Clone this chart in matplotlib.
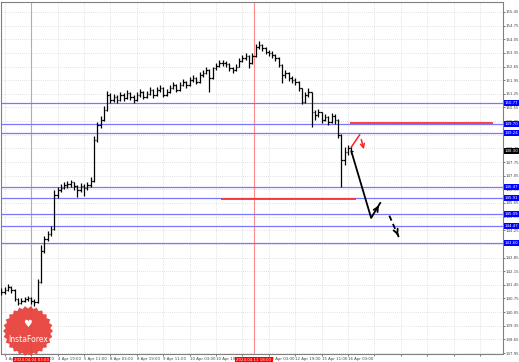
import matplotlib
matplotlib.use('Agg')
import matplotlib.pyplot as plt
import numpy as np
from matplotlib.patches import Polygon
import matplotlib.transforms as mtransforms

# ---------------- data ----------------
bar_index = list(range(0, 214, 2))
closes = [141.10, 141.20, 141.35, 141.20, 140.70, 140.50, 140.60, 140.70, 140.75, 140.60,
          140.55, 141.60, 143.20, 143.80, 144.05, 144.30, 146.05, 146.30, 146.40, 146.55,
          146.60, 146.70, 146.50, 146.30, 146.50, 146.40, 146.55, 146.80, 148.90, 149.65,
          149.90, 150.40, 151.20, 150.95, 151.10, 150.95, 151.20, 151.05, 151.30, 151.10,
          150.95, 151.20, 151.35, 151.10, 151.25, 151.45, 151.20, 151.45, 151.55, 151.20,
          151.35, 151.55, 151.70, 151.45, 151.70, 151.85, 151.70, 151.95, 152.05, 151.85,
          152.20, 152.30, 152.45, 152.05, 152.55, 152.70, 152.85, 152.85, 152.80, 152.55,
          152.45, 152.65, 152.95, 153.10, 153.20, 152.85, 153.20, 153.65, 153.75, 153.60,
          153.40, 153.35, 153.25, 153.10, 152.75, 152.20, 152.30, 152.05, 151.95, 151.85,
          151.55, 150.85, 151.20, 151.35, 150.30, 150.15, 150.30, 149.90, 150.05, 149.80,
          150.10, 149.90, 149.15, 147.85, 148.25, 148.45, 148.30]
highs = [141.30, 141.35, 141.50, 141.40, 141.25, 140.75, 140.75, 140.85, 140.90, 140.80,
         140.70, 141.75, 143.50, 143.95, 144.20, 144.45, 146.30, 146.45, 146.60, 146.75,
         146.80, 146.85, 146.75, 146.55, 146.65, 146.60, 146.70, 147.00, 149.10, 149.80,
         150.10, 150.60, 151.40, 151.30, 151.25, 151.20, 151.35, 151.30, 151.45, 151.35,
         151.20, 151.35, 151.50, 151.40, 151.40, 151.60, 151.50, 151.60, 151.70, 151.60,
         151.50, 151.70, 151.85, 151.75, 151.85, 152.00, 151.90, 152.10, 152.20, 152.10,
         152.35, 152.45, 152.60, 152.50, 152.65, 152.85, 153.00, 153.00, 152.95, 152.85,
         152.65, 152.80, 153.10, 153.25, 153.35, 153.25, 153.35, 153.80, 153.95, 153.80,
         153.65, 153.50, 153.45, 153.30, 153.15, 152.80, 152.45, 152.35, 152.15, 152.05,
         151.90, 151.55, 151.35, 151.55, 151.35, 150.40, 150.45, 150.30, 150.20, 150.10,
         150.25, 150.20, 149.95, 149.20, 148.50, 148.60, 148.55]
lows = [140.95, 141.00, 141.15, 141.05, 140.60, 140.40, 140.45, 140.55, 140.60, 140.45,
        140.35, 140.50, 141.55, 143.10, 143.70, 143.95, 144.25, 145.90, 146.20, 146.35,
        146.40, 146.45, 146.30, 145.95, 146.20, 146.00, 146.30, 146.45, 146.75, 148.80,
        149.50, 149.85, 150.35, 150.80, 150.85, 150.80, 150.90, 150.90, 151.00, 150.95,
        150.80, 150.90, 151.10, 151.00, 151.05, 151.20, 151.05, 151.15, 151.35, 151.10,
        151.15, 151.30, 151.50, 151.35, 151.40, 151.65, 151.55, 151.65, 151.85, 151.75,
        151.80, 152.10, 152.25, 151.35, 152.00, 152.45, 152.65, 152.70, 152.60, 152.40,
        152.30, 152.40, 152.60, 152.90, 153.00, 152.55, 152.80, 153.15, 153.55, 153.45,
        153.30, 153.20, 153.10, 152.95, 152.60, 151.80, 152.05, 151.90, 151.80, 151.70,
        151.40, 150.75, 150.80, 151.10, 149.55, 149.90, 150.05, 149.75, 149.85, 149.65,
        149.75, 149.70, 149.00, 146.45, 147.60, 148.10, 148.15]

tick_bars = [2, 18, 34, 50, 66, 82, 98, 114, 130, 146, 162, 178, 194, 210,
             226, 242, 258, 274, 290]
tick_labels = ['3 Apr 2024', '4 Apr 03:00', '4 Apr 19:00', '5 Apr 11:00', '8 Apr 03:00',
               '8 Apr 19:00', '9 Apr 11:00', '10 Apr 03:00', '10 Apr 19:00', '11 Apr 11:00',
               '12 Apr 03:00', '12 Apr 19:00', '15 Apr 11:00', '16 Apr 03:00',
               '', '', '', '', '']
price_ticks = [137.95, 138.65, 139.35, 140.05, 140.75, 141.45, 142.15, 142.85, 143.55,
               144.25, 144.95, 145.65, 146.35, 147.05, 147.75, 148.45, 149.15, 149.85,
               150.55, 151.25, 151.95, 152.65, 153.35, 154.05, 154.75, 155.45]

blue_levels = [150.77, 149.70, 149.24, 146.47, 145.91, 145.09, 144.47, 143.60]
current_price = 148.30
red_levels = [149.75, 145.86]
red_starts = [211, 133]
red_ends = [298, 215]
marker_bars = [18, 153]
marker_labels = ['2024.04.04 03:00', '2024.04.11 18:00']

# forecast drawings (bar, price)
fc_solid_x = [212, 224, 229.5]
fc_solid_y = [148.30, 144.88, 145.65]
fc_dash_x = [235, 241]
fc_dash_y = [145.00, 143.85]
fc_red_x = [212, 217, 217.6, 220]
fc_red_y = [148.52, 149.14, 149.04, 148.27]

# ---------------- figure ----------------
W, H = 519, 362
FS = 2.8
fig = plt.figure(figsize=(W / 100, H / 100), dpi=100)
fig.patch.set_facecolor('white')
ax = fig.add_axes([0.5 / W, 1 - 354 / H, 502 / W, 352 / H])
ax.set_facecolor('white')
ax.set_xlim(-0.6, 303.6)
ax.set_ylim(137.90, 155.96)

grid_kw = dict(color='#c8c8c8', lw=0.5, linestyle=(0, (1, 2)))
for yv in price_ticks:
    ax.axhline(yv, zorder=0, **grid_kw)
for xv in tick_bars:
    ax.axvline(xv, zorder=0, **grid_kw)

ax.set_yticks(price_ticks)
ax.set_yticklabels(['%.2f' % v for v in price_ticks])
ax.yaxis.tick_right()
ax.set_xticks(tick_bars)
ax.set_xticklabels(tick_labels)
ax.tick_params(axis='both', labelsize=FS, colors='#444444', length=1.5, width=0.5, pad=1)
for lbl in ax.get_xticklabels():
    lbl.set_ha('left')
for sp in ax.spines.values():
    sp.set_color('#808080')
    sp.set_linewidth(0.8)

# vertical marker lines
for xb in marker_bars:
    ax.axvline(xb, color='#ff8c8c', lw=0.8, zorder=1)

# blue levels
for lv in blue_levels:
    ax.axhline(lv, color='#7878ff', lw=0.9, zorder=2)

# red levels
for lv, x0, x1 in zip(red_levels, red_starts, red_ends):
    ax.plot([x0, x1], [lv, lv], color='#ff3030', lw=1.3, zorder=3, solid_capstyle='butt')

# price bars
opens = [closes[0]] + closes[:-1]
bx = np.array(bar_index, dtype=float)
ax.vlines(bx, lows, highs, color='black', lw=0.9, zorder=4)
ax.hlines(opens, bx - 0.9, bx, color='black', lw=0.9, zorder=4)
ax.hlines(closes, bx, bx + 0.9, color='black', lw=0.9, zorder=4)

# forecast arrows
ax.plot(fc_solid_x, fc_solid_y, color='black', lw=1.3, zorder=5)
ax.annotate('', xy=(fc_solid_x[-1], fc_solid_y[-1]), xytext=(fc_solid_x[-2] + 3, fc_solid_y[-2] + 0.4),
            arrowprops=dict(arrowstyle='->', color='black', lw=1.3, mutation_scale=8), zorder=5)
ax.plot(fc_dash_x, fc_dash_y, color='black', lw=1.3, linestyle=(0, (3, 2)), zorder=5)
ax.annotate('', xy=(fc_dash_x[-1], fc_dash_y[-1]), xytext=(fc_dash_x[-1] - 1.5, fc_dash_y[-1] + 0.3),
            arrowprops=dict(arrowstyle='->', color='black', lw=1.3, mutation_scale=8), zorder=5)
ax.plot(fc_red_x[:2], fc_red_y[:2], color='#ff2020', lw=1.1, zorder=5)
ax.annotate('', xy=(fc_red_x[3], fc_red_y[3]), xytext=(fc_red_x[2], fc_red_y[2]),
            arrowprops=dict(arrowstyle='->', color='#ff2020', lw=1.1, mutation_scale=7), zorder=5)

# right-axis highlighted labels
ytrans = mtransforms.blended_transform_factory(ax.transAxes, ax.transData)
for lv in blue_levels:
    ax.text(1.004, lv, '%.2f' % lv, transform=ytrans, fontsize=FS, color='white',
            va='center', ha='left', clip_on=False, zorder=10,
            bbox=dict(boxstyle='square,pad=0.25', fc='#0000ff', ec='none'))
ax.text(1.004, current_price, '%.2f' % current_price, transform=ytrans, fontsize=FS,
        color='white', va='center', ha='left', clip_on=False, zorder=10,
        bbox=dict(boxstyle='square,pad=0.25', fc='black', ec='none'))

# crosshair time labels on the x axis
xtrans = mtransforms.blended_transform_factory(ax.transData, ax.transAxes)
for xb, txt in zip(marker_bars, marker_labels):
    ax.text(xb, -0.012, txt, transform=xtrans, fontsize=FS, color='white', ha='center',
            va='top', clip_on=False, zorder=10,
            bbox=dict(boxstyle='square,pad=0.3', fc='#ff0000', ec='none'))

# InstaForex badge
cx, cy, r1, r2 = 28, 331, 25, 22.5
n = 52
ang = np.linspace(0, 2 * np.pi, n, endpoint=False)
rad = np.where(np.arange(n) % 2 == 0, r1, r2)
pts = np.column_stack([(cx + rad * np.cos(ang)) / W, 1 - (cy + rad * np.sin(ang)) / H])
fig.patches.append(Polygon(pts, closed=True, transform=fig.transFigure, fc='#e8423c',
                           ec='none', zorder=20, alpha=0.95))
fig.text(cx / W, 1 - (cy - 7) / H, '\u2665', color='white', fontsize=7, ha='center',
         va='center', zorder=21)
fig.text(cx / W, 1 - (cy + 8) / H, 'InstaForex', color='white', fontsize=5.5, ha='center',
         va='center', zorder=21)

fig.savefig('out.png', dpi=100, facecolor='white')
